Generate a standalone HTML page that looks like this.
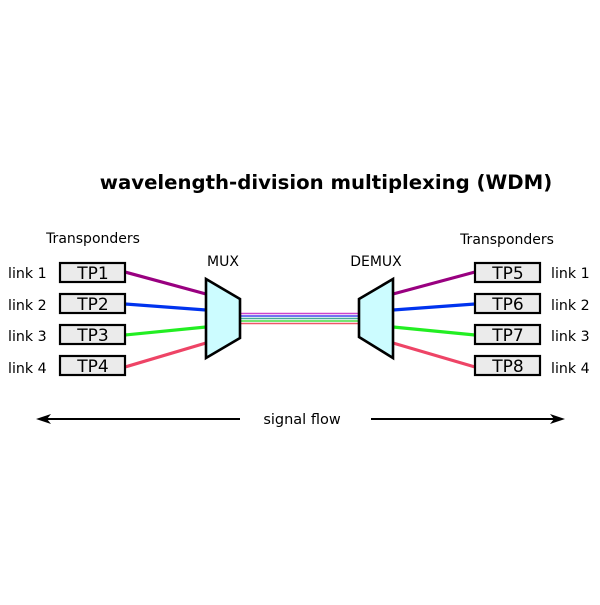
<!DOCTYPE html>
<html><head><style>body{margin:0;background:#fff}</style></head><body>
<svg width="600" height="600" xmlns="http://www.w3.org/2000/svg" font-family="DejaVu Sans, Liberation Sans, sans-serif">
<rect width="600" height="600" fill="#fff"/>
<text x="326" y="189" text-anchor="middle" font-size="19.7" font-weight="bold">wavelength-division multiplexing (WDM)</text>
<text x="93" y="243" text-anchor="middle" font-size="14">Transponders</text>
<text x="507" y="244" text-anchor="middle" font-size="14">Transponders</text>
<text x="223" y="266" text-anchor="middle" font-size="14">MUX</text>
<text x="376" y="266" text-anchor="middle" font-size="14">DEMUX</text>
<g font-size="14.2">
<text x="8" y="278">link 1</text><text x="8" y="310">link 2</text><text x="8" y="341">link 3</text><text x="8" y="373">link 4</text>
<text x="551" y="278">link 1</text><text x="551" y="310">link 2</text><text x="551" y="341">link 3</text><text x="551" y="373">link 4</text>
</g>
<g stroke-width="3.2" fill="none">
<line x1="125" y1="272" x2="206" y2="294" stroke="#990080"/>
<line x1="125" y1="304" x2="206" y2="310" stroke="#0033ee"/>
<line x1="125" y1="335" x2="206" y2="327" stroke="#22ee22"/>
<line x1="125" y1="367" x2="206" y2="343" stroke="#ee4466"/>
<line x1="475" y1="272" x2="393" y2="294" stroke="#990080"/>
<line x1="475" y1="304" x2="393" y2="310" stroke="#0033ee"/>
<line x1="475" y1="335" x2="393" y2="327" stroke="#22ee22"/>
<line x1="475" y1="367" x2="393" y2="343" stroke="#ee4466"/>
</g>
<g stroke-width="1.5">
<line x1="240" y1="313.5" x2="359" y2="313.5" stroke="#cc44cc"/>
<line x1="240" y1="316" x2="359" y2="316" stroke="#4444ee"/>
<line x1="240" y1="318.5" x2="359" y2="318.5" stroke="#44aa99"/>
<line x1="240" y1="321" x2="359" y2="321" stroke="#44dd44"/>
<line x1="240" y1="323.5" x2="359" y2="323.5" stroke="#ee5566"/>
</g>
<polygon points="206,279 240,299 240,338 206,358" fill="#ccfcff" stroke="#000" stroke-width="2.6"/>
<polygon points="393,279 359,299 359,337 393,358" fill="#ccfcff" stroke="#000" stroke-width="2.6"/>
<g fill="#ebebeb" stroke="#000" stroke-width="2.2">
<rect x="60" y="263" width="65" height="19"/><rect x="60" y="294" width="65" height="19"/><rect x="60" y="325" width="65" height="19"/><rect x="60" y="356" width="65" height="19"/>
<rect x="475" y="263" width="65" height="19"/><rect x="475" y="294" width="65" height="19"/><rect x="475" y="325" width="65" height="19"/><rect x="475" y="356" width="65" height="19"/>
</g>
<g font-size="17" text-anchor="middle">
<text x="93" y="279">TP1</text><text x="93" y="310">TP2</text><text x="93" y="341">TP3</text><text x="93" y="372">TP4</text>
<text x="508" y="279">TP5</text><text x="508" y="310">TP6</text><text x="508" y="341">TP7</text><text x="508" y="372">TP8</text>
</g>
<line x1="45" y1="419" x2="240" y2="419" stroke="#000" stroke-width="2"/>
<polygon points="36,419 51,414 47,419 51,424" fill="#000"/>
<line x1="371" y1="419" x2="555" y2="419" stroke="#000" stroke-width="2"/>
<polygon points="565,419 550,414 554,419 550,424" fill="#000"/>
<text x="302" y="424" text-anchor="middle" font-size="14.5">signal flow</text>
</svg>
</body></html>
